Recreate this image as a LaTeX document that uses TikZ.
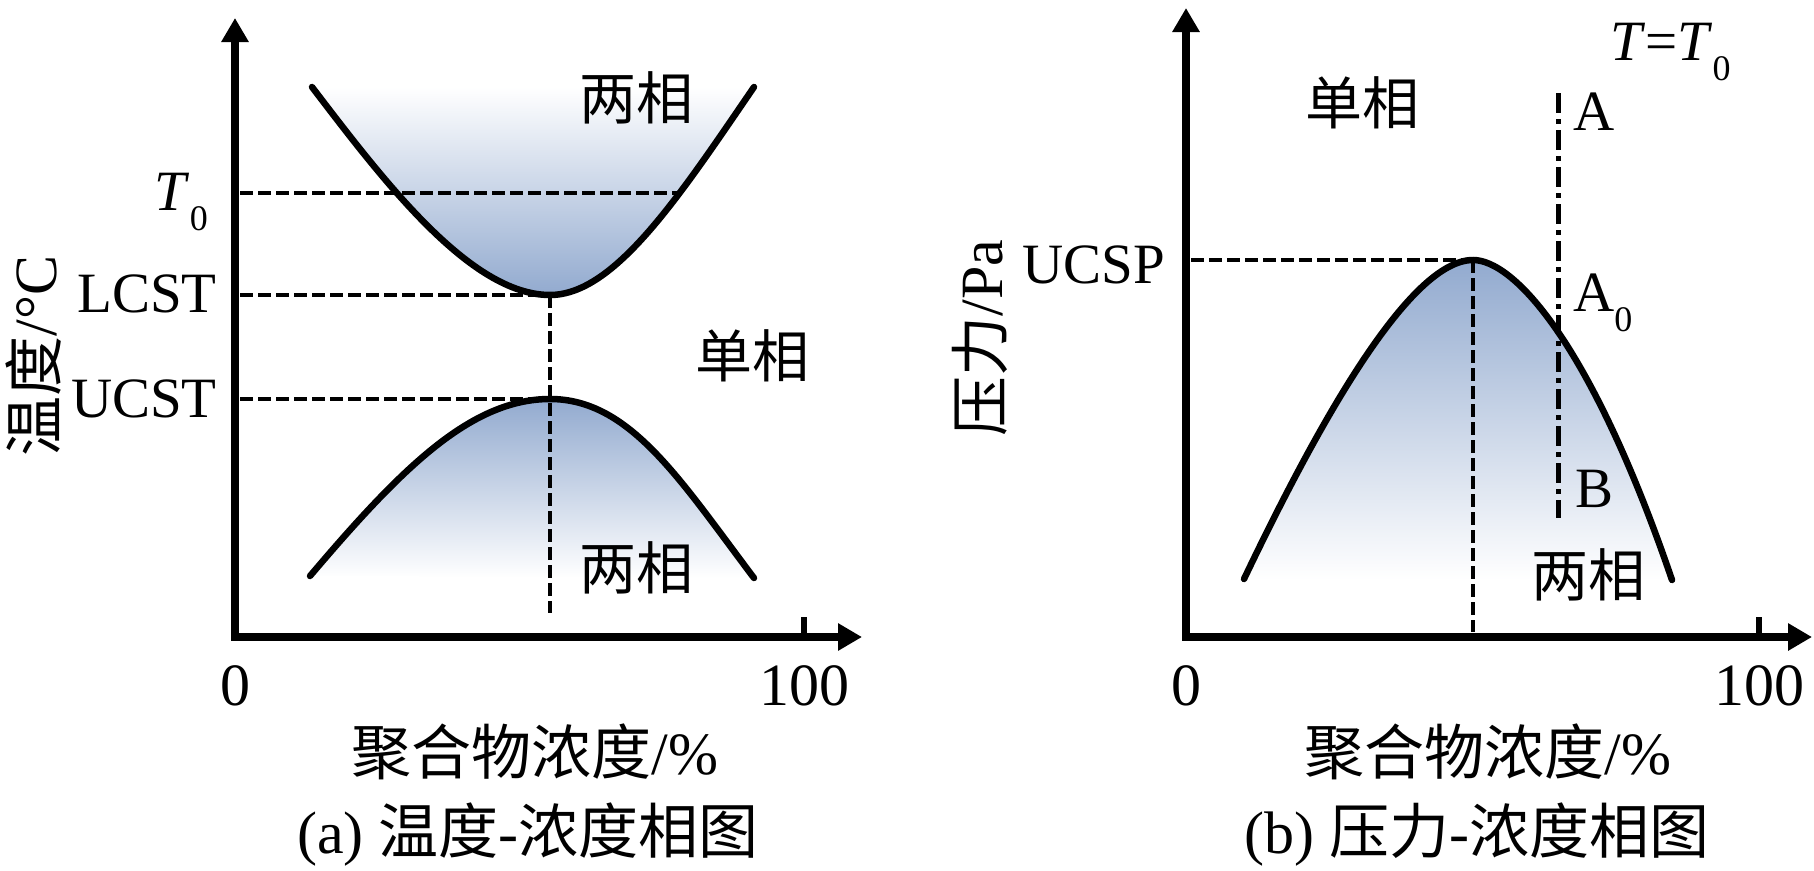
\documentclass[tikz,border=0pt]{standalone}
\usepackage{fontspec}
\setmainfont{Liberation Serif}
\newfontfamily\cjk{Noto Sans CJK SC}
\usetikzlibrary{arrows.meta}
\definecolor{phase}{RGB}{146,170,207}
\newcommand\subz[1]{\raisebox{-0.36em}{\fontsize{36}{36}\selectfont #1}}
\begin{document}
\begin{tikzpicture}[x=1pt,y=-1pt,
  axisline/.style={line width=7.5pt,line join=miter,
    {Triangle[length=24pt,width=26pt]}-{Triangle[length=24pt,width=26pt]}},
  tickline/.style={line width=6pt},
  curveline/.style={line width=6.5pt,line cap=round},
  dashline/.style={line width=4.5pt,dash pattern=on 13pt off 5pt},
  dashdotline/.style={line width=5pt,dash pattern=on 20pt off 6pt on 5pt off 6pt},
  lbl/.style={font=\fontsize{57}{57}\selectfont,inner sep=0pt},
  axlbl/.style={font=\fontsize{60}{60}\selectfont,inner sep=0pt},
  cjklbl/.style={font=\cjk\fontsize{57}{57}\selectfont,inner sep=0pt},
  fillup/.style={top color=white,bottom color=phase},
  filldown/.style={top color=phase,bottom color=white}]
\useasboundingbox (0,0) rectangle (1814,870);
% ---------- left panel ----------
\coordinate (LO) at (235,637);
\coordinate (LY) at (235,18);
\coordinate (LX) at (862,637);
\coordinate (LT) at (804,637);
\coordinate (LTt) at (804,617);
\coordinate (u1) at (312,87);
\coordinate (umin) at (550,295);
\coordinate (u2) at (754,87);
\coordinate (l1) at (310,576);
\coordinate (lmax) at (550,399);
\coordinate (l2) at (754,578);
\coordinate (T0a) at (240,193);
\coordinate (T0b) at (679,193);
\coordinate (LCa) at (240,295);
\coordinate (UCa) at (240,399);
\coordinate (Vbot) at (550,613);
\shade[fillup] (u1) .. controls (383,180) and (470,295) .. (umin)
   .. controls (615,295) and (680,195) .. (u2) -- cycle;
\shade[filldown] (l1) .. controls (400,470) and (470,399) .. (lmax)
   .. controls (630,399) and (680,480) .. (l2) -- cycle;
\draw[dashline] (T0a) -- (T0b);
\draw[dashline] (LCa) -- (umin);
\draw[dashline] (UCa) -- (lmax);
\draw[dashline] (umin) -- (Vbot);
\draw[curveline] (u1) .. controls (383,180) and (470,295) .. (umin)
   .. controls (615,295) and (680,195) .. (u2);
\draw[curveline] (l1) .. controls (400,470) and (470,399) .. (lmax)
   .. controls (630,399) and (680,480) .. (l2);
\draw[axisline] (LY) -- (LO) -- (LX);
\draw[tickline] (LT) -- (LTt);
\node[lbl,anchor=base east] (t0) at (208,210) {\textit{T}\subz{0}};
\node[lbl,anchor=base east] (lcst) at (217,312) {LCST};
\node[lbl,anchor=base east] (ucst) at (217,417) {UCST};
\node[axlbl,anchor=base] (zeroL) at (235,705) {0};
\node[axlbl,anchor=base] (hundL) at (804,705) {100};
\node[axlbl] (xlabL) at (535,752) {{\cjk 聚合物浓度}/\%};
\node[axlbl] (capL) at (528,835) {(a) {\cjk 温度}-{\cjk 浓度相图}};
\node[axlbl,rotate=90] (ylabL) at (34,356) {{\cjk 温度}/°C};
\node[cjklbl] (twoL1) at (636,98) {两相};
\node[cjklbl] (oneL) at (752,356) {单相};
\node[cjklbl] (twoL2) at (636,568) {两相};
% ---------- right panel ----------
\coordinate (RO) at (1186,637);
\coordinate (RY) at (1186,8);
\coordinate (RX) at (1812,637);
\coordinate (RT) at (1759,637);
\coordinate (RTt) at (1759,617);
\coordinate (r1) at (1244,579);
\coordinate (rpk) at (1473,260);
\coordinate (r2) at (1672,580);
\coordinate (UPa) at (1191,260);
\coordinate (Rbot) at (1473,632);
\coordinate (dA) at (1558,93);
\coordinate (dB) at (1558,518);
\shade[filldown] (r1) .. controls (1320,420) and (1410,260) .. (rpk)
   .. controls (1513,260) and (1590,340) .. (r2) -- cycle;
\draw[dashline] (UPa) -- (rpk);
\draw[dashline] (rpk) -- (Rbot);
\draw[dashdotline] (dA) -- (dB);
\draw[curveline] (r1) .. controls (1320,420) and (1410,260) .. (rpk)
   .. controls (1513,260) and (1590,340) .. (r2);
\draw[axisline] (RY) -- (RO) -- (RX);
\draw[tickline] (RT) -- (RTt);
\node[lbl,anchor=base west] (tt0) at (1610,60) {\textit{T}=\textit{T}\subz{0}};
\node[lbl,anchor=base east] (ucsp) at (1165,283) {UCSP};
\node[lbl,anchor=base west] (ptA) at (1573,130) {A};
\node[lbl,anchor=base west] (ptA0) at (1573,311) {A\subz{0}};
\node[lbl,anchor=base west] (ptB) at (1575,507) {B};
\node[axlbl,anchor=base] (zeroR) at (1186,705) {0};
\node[axlbl,anchor=base] (hundR) at (1759,705) {100};
\node[axlbl] (xlabR) at (1488,752) {{\cjk 聚合物浓度}/\%};
\node[axlbl] (capR) at (1477,835) {(b) {\cjk 压力}-{\cjk 浓度相图}};
\node[axlbl,rotate=90] (ylabR) at (980,338) {{\cjk 压力}/Pa};
\node[cjklbl] (oneR) at (1362,103) {单相};
\node[cjklbl] (twoR) at (1588,575) {两相};
\end{tikzpicture}
\end{document}
